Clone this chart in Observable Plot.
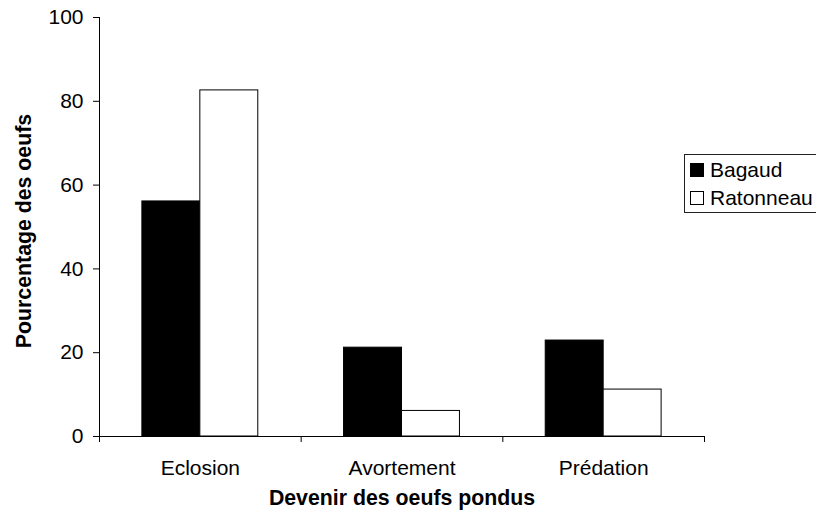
<!DOCTYPE html>
<html><head><meta charset="utf-8">
<script src="https://cdn.jsdelivr.net/npm/d3@7"></script>
<script src="https://cdn.jsdelivr.net/npm/@observablehq/plot@0.6"></script>
<style>
body{margin:0;background:#fff;overflow:hidden;font-family:"Liberation Sans",Arial,sans-serif}
#wrap{position:relative;width:816px;height:518px;overflow:hidden}
#legend{position:absolute;left:684px;top:154px;width:150px;height:59px;border:1px solid #222;box-sizing:border-box;font-size:21px;padding:1px 0 0 5px;background:#fff;color:#000}
#legend .item{display:flex;align-items:center;height:28px}
#legend .sw{width:14px;height:14px;box-sizing:border-box;border:1px solid #000;margin-right:6px}
</style></head>
<body><div id="wrap"></div>
<script>
const categories = ["Eclosion", "Avortement", "Prédation"];
const series = ["Bagaud", "Ratonneau"];
const bagaud = [56.1, 21.2, 22.9];
const ratonneau = [82.6, 6.1, 11.2];
const yTicks = [0, 20, 40, 60, 80, 100];
const seriesColors = ["#000000", "#ffffff"];
const xTitle = "Devenir des oeufs pondus";
const yTitle = "Pourcentage des oeufs";

const values = {Bagaud: bagaud, Ratonneau: ratonneau};
const data = categories.flatMap((c, i) => series.map(s => ({cat: c, ci: i, s, v: values[s][i]})));
const inner = d3.scaleBand(series, [0, 1]).paddingInner(0).paddingOuter(0.74);
const font = "'Liberation Sans', Arial, sans-serif";

const chart = Plot.plot({
  width: 816, height: 518,
  marginLeft: 99, marginRight: 112, marginTop: 17, marginBottom: 82,
  x: {domain: [0, categories.length], axis: null},
  y: {domain: [0, 100], axis: null},
  color: {domain: series, range: seriesColors},
  style: {fontFamily: font, fontSize: "21px", color: "#000", background: "#fff"},
  marks: [
    Plot.rectY(data, {
      x1: d => d.ci + inner(d.s),
      x2: d => d.ci + inner(d.s) + inner.bandwidth(),
      y1: 0, y2: "v", fill: "s", stroke: "#000", strokeWidth: 1
    }),
    Plot.ruleY([0], {stroke: "#000"}),
    Plot.ruleX([0], {y1: 0, y2: 100, stroke: "#000"}),
    Plot.axisY(yTicks, {tickSize: 6, tickPadding: 10, label: null, fontSize: 21, stroke: "#000"}),
    Plot.axisX(d3.range(categories.length + 1), {tickSize: 6, tickFormat: () => "", label: null}),
    Plot.axisX(categories.map((c, i) => i + 0.5), {tickSize: 0, tickPadding: 24, label: null, fontSize: 21, tickFormat: v => categories[Math.floor(v)]}),
    Plot.text([yTitle], {frameAnchor: "left", textAnchor: "middle", rotate: -90, dx: -75, dy: 4, fontWeight: "bold", fontSize: 21.3}),
    Plot.text([xTitle], {frameAnchor: "bottom", textAnchor: "middle", dy: 68, fontWeight: "bold", fontSize: 21.3})
  ]
});
const wrap = document.getElementById("wrap");
wrap.appendChild(chart);
const legend = document.createElement("div");
legend.id = "legend";
series.forEach((s, i) => {
  const it = document.createElement("div");
  it.className = "item";
  const sw = document.createElement("span");
  sw.className = "sw";
  sw.style.background = seriesColors[i];
  it.appendChild(sw);
  it.appendChild(document.createTextNode(s));
  legend.appendChild(it);
});
wrap.appendChild(legend);
</script></body></html>
